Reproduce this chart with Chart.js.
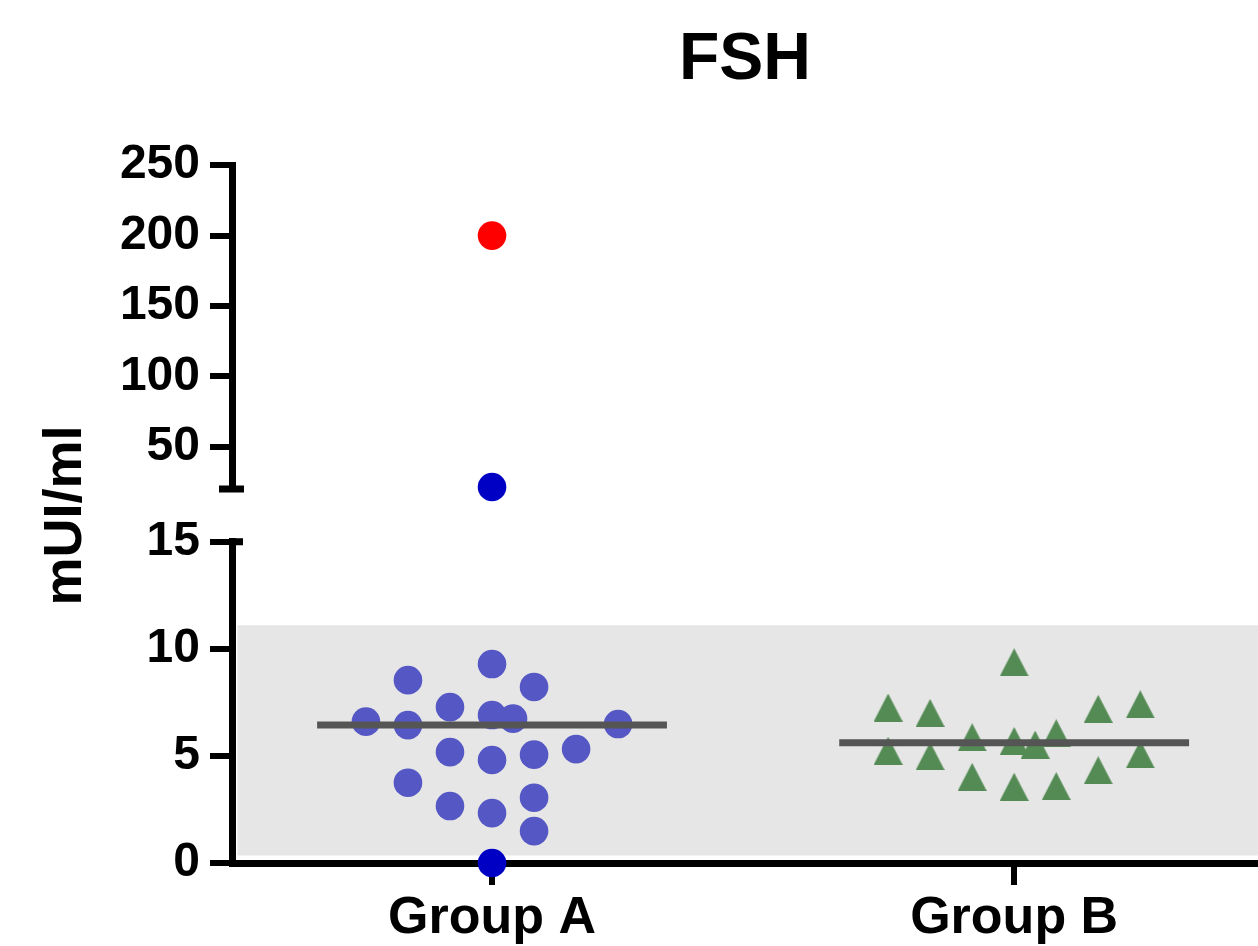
<!DOCTYPE html>
<html>
<head>
<meta charset="utf-8">
<script src="https://cdn.jsdelivr.net/npm/chart.js@4"></script>
<style>
  html, body { margin: 0; background: #fff; overflow: hidden; }
  canvas { display: block; }
</style>
</head>
<body>
<canvas id="fshChart" width="1258" height="946"></canvas>
<script>
var groups = ['Group A', 'Group B'];

// Group A, lower segment (mUI/ml) and the column each dot sits in
var groupAValues = [6.60, 8.54, 6.44, 3.75, 7.28, 5.18, 2.66, 9.29, 6.91, 4.81, 2.33, 6.74, 8.22, 5.06, 3.05, 1.49, 5.32, 6.49];
var groupACols   = [-3, -2, -2, -2, -1, -1, -1, 0, 0, 0, 0, 0.5, 1, 1, 1, 1, 2, 3];
var groupAFlagLow  = [0];     // dark blue dot at zero
var groupAFlagHigh = [21.5];  // dark blue dot above the break
var groupAOutlier  = [200];   // red dot

var groupBValues = [7.26, 5.24, 7.01, 4.99, 5.87, 4.02, 9.37, 5.70, 3.56, 5.53, 6.06, 3.59, 7.20, 4.33, 7.41, 5.07];
var groupBCols   = [-3, -3, -2, -2, -1, -1, 0, 0, 0, 0.5, 1, 1, 2, 2, 3, 3];

var refRange  = [0.35, 11.1];
var lowTicks  = [0, 5, 10, 15];
var highTicks = [50, 100, 150, 200, 250];

var colStep = 0.0805;
var medianHalf = 0.335;
var xMin = 0.502, xMax = 2.467;

function median(arr) {
  var s = arr.slice().sort(function(a, b) { return a - b; });
  var m = Math.floor(s.length / 2);
  return s.length % 2 ? s[m] : (s[m - 1] + s[m]) / 2;
}

function points(group, cols, vals) {
  return vals.map(function(v, i) { return {x: group + cols[i] * colStep, y: v}; });
}

var medianA = median(groupAValues.concat(groupAFlagLow, groupAFlagHigh, groupAOutlier));
var medianB = median(groupBValues);

// triangle marker for group B
var tri = document.createElement('canvas');
tri.width = 29; tri.height = 28;
var t = tri.getContext('2d');
t.fillStyle = '#548b54';
t.beginPath();
t.moveTo(14.5, 0); t.lineTo(29, 28); t.lineTo(0, 28);
t.closePath();
t.fill();

// caps at both ends of the axis break
var breakMarks = {
  id: 'breakMarks',
  afterDraw: function(chart) {
    var ctx = chart.ctx, hi = chart.scales.yHigh, lo = chart.scales.yLow;
    var x = hi.right;
    ctx.save();
    ctx.strokeStyle = '#000';
    ctx.lineWidth = 7;
    ctx.beginPath();
    var yb = hi.getPixelForValue(hi.min);
    ctx.moveTo(x - 13, yb); ctx.lineTo(x + 12, yb);
    var yt = lo.getPixelForValue(lo.max);
    ctx.moveTo(x - 2, yt); ctx.lineTo(x + 11, yt);
    ctx.stroke();
    ctx.restore();
  }
};

var tickFont = {family: 'Liberation Sans, Arial, sans-serif', size: 48, weight: 'bold'};
var axisGrid = {drawOnChartArea: false, tickLength: 22, lineWidth: 6, color: '#000'};
var axisBorder = {width: 7, color: '#000'};

var ctx = document.getElementById('fshChart').getContext('2d');
var chart = new Chart(ctx, {
  type: 'scatter',
  data: {
    datasets: [
      {
        type: 'line', order: 1, yAxisID: 'yLow',
        data: [{x: 1 - medianHalf, y: medianA}, {x: 1 + medianHalf, y: medianA}],
        borderColor: '#555555', borderWidth: 7, pointRadius: 0, borderCapStyle: 'butt'
      },
      {
        type: 'line', order: 1, yAxisID: 'yLow',
        data: [{x: 2 - medianHalf, y: medianB}, {x: 2 + medianHalf, y: medianB}],
        borderColor: '#555555', borderWidth: 7, pointRadius: 0, borderCapStyle: 'butt'
      },
      {
        order: 2, yAxisID: 'yLow', clip: false,
        data: points(1, groupACols, groupAValues),
        backgroundColor: '#5457c4', borderWidth: 0, pointRadius: 14.3
      },
      {
        order: 2, yAxisID: 'yLow', clip: false,
        data: points(1, [0], groupAFlagLow),
        backgroundColor: '#0000c4', borderWidth: 0, pointRadius: 14.3
      },
      {
        order: 2, yAxisID: 'yHigh', clip: false,
        data: points(1, [0], groupAFlagHigh),
        backgroundColor: '#0000c4', borderWidth: 0, pointRadius: 14.3
      },
      {
        order: 2, yAxisID: 'yHigh', clip: false,
        data: points(1, [0], groupAOutlier),
        backgroundColor: '#ff0000', borderWidth: 0, pointRadius: 14.3
      },
      {
        order: 2, yAxisID: 'yLow', clip: false,
        data: points(2, groupBCols, groupBValues),
        pointStyle: tri, pointRadius: 15
      },
      {
        type: 'line', order: 3, yAxisID: 'yLow',
        data: [{x: xMin + 0.01, y: refRange[1]}, {x: xMax, y: refRange[1]}],
        borderWidth: 0, pointRadius: 0,
        backgroundColor: '#e6e6e6', fill: {value: refRange[0]}
      }
    ]
  },
  options: {
    responsive: false,
    animation: false,
    layout: {padding: 0, autoPadding: false},
    plugins: {
      legend: {display: false},
      tooltip: {enabled: false},
      title: {
        display: true, text: 'FSH', color: '#000', fullSize: false,
        font: {family: 'Liberation Sans, Arial, sans-serif', size: 66, weight: 'bold'},
        padding: {top: 21, bottom: 65}
      }
    },
    scales: {
      x: {
        type: 'linear', min: xMin, max: xMax,
        afterBuildTicks: function(s) { s.ticks = [{value: 1}, {value: 2}]; },
        afterFit: function(s) { s.height = 83; s.paddingRight = 0; s.paddingLeft = 0; },
        ticks: {
          color: '#000', padding: 2, maxRotation: 0, autoSkip: false,
          font: {family: 'Liberation Sans, Arial, sans-serif', size: 52, weight: 'bold'},
          callback: function(v) { return groups[Math.round(v) - 1]; }
        },
        grid: axisGrid, border: axisBorder
      },
      yLow: {
        type: 'linear', position: 'left', stack: 'y', stackWeight: 321.3,
        min: 0, max: 15,
        afterBuildTicks: function(s) { s.ticks = lowTicks.map(function(v) { return {value: v}; }); },
        afterFit: function(s) { s.width = 232; },
        ticks: {color: '#000', padding: 10, font: tickFont, autoSkip: false},
        grid: axisGrid, border: axisBorder
      },
      yGap: {
        type: 'linear', position: 'left', stack: 'y', stackWeight: 52.7,
        min: 0, max: 1,
        afterFit: function(s) { s.width = 232; },
        ticks: {display: false},
        grid: {display: false},
        border: {display: false},
        title: {
          display: true, text: 'mUI/ml', color: '#000',
          font: {family: 'Liberation Sans, Arial, sans-serif', size: 54, weight: 'bold'},
          padding: {top: 34, bottom: 0}
        }
      },
      yHigh: {
        type: 'linear', position: 'left', stack: 'y', stackWeight: 324,
        min: 20, max: 250,
        afterBuildTicks: function(s) { s.ticks = highTicks.map(function(v) { return {value: v}; }); },
        afterFit: function(s) { s.width = 232; },
        ticks: {color: '#000', padding: 10, font: tickFont, autoSkip: false},
        grid: axisGrid, border: axisBorder
      }
    }
  },
  plugins: [breakMarks]
});
</script>
</body>
</html>
